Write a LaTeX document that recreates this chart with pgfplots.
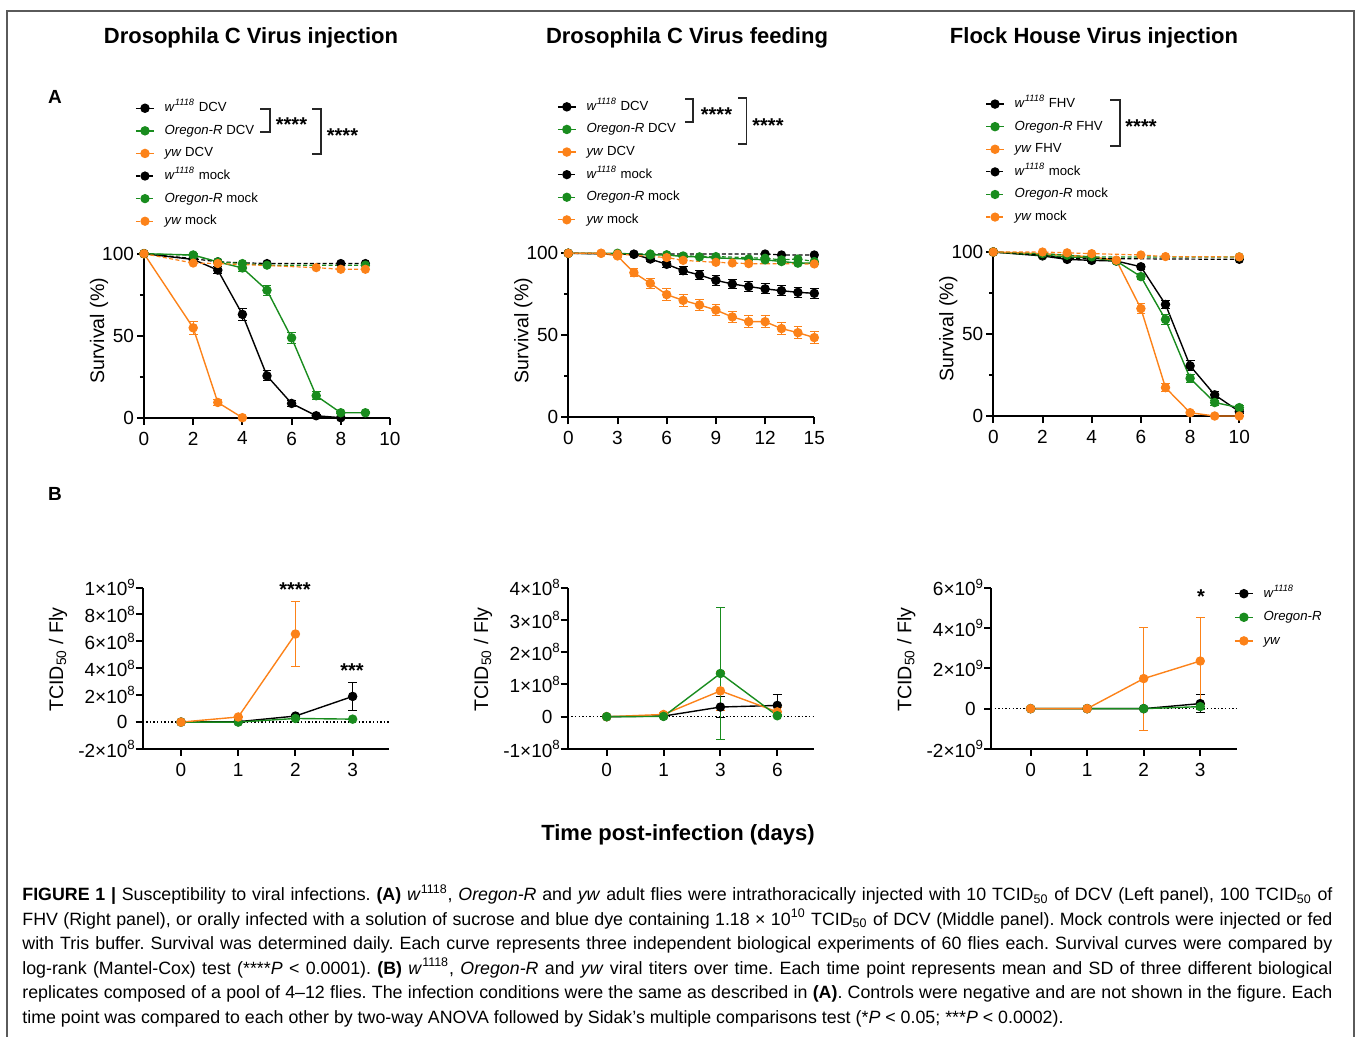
\documentclass[border=0pt]{standalone}
\usepackage{fontspec}
\setmainfont{Liberation Sans}
\usepackage{pgfplots}
\pgfplotsset{compat=1.18}
\definecolor{gpgreen}{RGB}{25,140,30}
\definecolor{gporange}{RGB}{252,130,25}
\definecolor{framegray}{RGB}{90,90,90}
\pgfplotsset{
 gp/.style={scale only axis, clip=false, axis x line*=bottom, axis y line*=left,
   axis line style={line width=1pt,-}, tick style={line width=1pt,black},
   tick align=outside, major tick length=3.5pt, minor tick length=2pt,
   tick label style={font=\fontsize{9.5}{10}\selectfont},
   /pgf/number format/assume math mode=true,
   label style={font=\fontsize{9.8}{11}\selectfont},
   legend cell align=left,
   legend style={draw=none, fill=none, font=\fontsize{6.6}{7}\selectfont, inner sep=0pt, row sep=4.8pt,
     nodes={inner sep=0pt, text height=5pt, text depth=1.5pt}},
   legend image code/.code={\draw[mark repeat=2,mark phase=2] plot coordinates {(0pt,0pt)(4.5pt,0pt)(9pt,0pt)}; \path (14pt,0pt);},
 },
 gpA/.style={gp, ylabel style={at={(axis description cs:-0.183,0.53)},anchor=center},
   yticklabel style={xshift=2pt},
   width=123pt, height=82pt, ymin=0, ymax=100, ytick={0,50,100}, minor ytick={25,75}, ylabel={Survival (\%)}},
 gpB/.style={gp, ylabel style={at={(axis description cs:-0.344,0.555)},anchor=center},
   yticklabel style={xshift=-0.6pt},
   width=123pt, height=80.7pt, xtick={0,1,2,3}, ylabel={TCID\textsubscript{50} / Fly}},
 sl/.style={line width=0.7pt, mark=*, mark size=2pt, mark options={solid},
   error bars/y dir=both, error bars/y explicit,
   error bars/error bar style={line width=0.5pt, solid},
   error bars/error mark options={rotate=90, mark size=2.2pt, line width=0.5pt, solid}},
 ml/.style={line width=0.6pt, dash pattern=on 2pt off 1.2pt, mark=*, mark size=2pt, mark options={solid}},
}
\newcommand\wt{\textit{w}\textsuperscript{\textit{1118}}}
\newcommand\ex[1]{\rlap{\textsuperscript{#1}}}
\newcommand\cfont{\fontsize{8.9}{10}\selectfont\frenchspacing}
\begin{document}
\begin{tikzpicture}
\begin{scope}[x=0.5pt,y=-0.5pt]
\path[use as bounding box] (0,0) rectangle (1357,1037);
\draw[framegray, line width=0.8pt] (7,11) rectangle (1354,1060);
\node[font=\bfseries\fontsize{11}{13}\selectfont] at (251,38) {Drosophila C Virus injection};
\node[font=\bfseries\fontsize{11}{13}\selectfont] at (687,38) {Drosophila C Virus feeding};
\node[font=\bfseries\fontsize{11}{13}\selectfont] at (1094,38) {Flock House Virus injection};
\node[font=\bfseries\fontsize{9.5}{11}\selectfont] at (55,97) {A};
\node[font=\bfseries\fontsize{9.5}{11}\selectfont] at (55,494) {B};
\node[font=\bfseries\fontsize{11}{13}\selectfont] at (678,835) {Time post-infection (days)};
\end{scope}

% ---------- A1 ----------
\begin{axis}[gpA, at={({144*0.5pt},{-417.7*0.5pt})}, anchor=south west,
  xmin=0, xmax=10, xtick={0,2,...,10},
  legend style={at={(axis description cs:-0.037,1.929)}, anchor=north west}]
\addplot[black, sl] coordinates {(0,100)+-(0,0) (2,96.5)+-(0,1.5) (3,90)+-(0,2) (4,63)+-(0,3.5) (5,25.5)+-(0,3) (6,8.7)+-(0,2) (7,1.2)+-(0,0.5) (8,0)+-(0,0)};
\addlegendentry{\wt{} DCV}
\addplot[gpgreen, sl] coordinates {(0,100)+-(0,0) (2,99.2)+-(0,1) (3,95)+-(0,1) (4,91.3)+-(0,2) (5,77.7)+-(0,3) (6,48.7)+-(0,3.5) (7,13.4)+-(0,2.5) (8,3)+-(0,0.5) (9,3)+-(0,0.5)};
\addlegendentry{\textit{Oregon-R} DCV}
\addplot[gporange, sl] coordinates {(0,100)+-(0,0) (2,54.8)+-(0,4) (3,9.3)+-(0,2) (4,0)+-(0,0)};
\addlegendentry{\textit{yw} DCV}
\addplot[black, ml] coordinates {(0,100) (2,97) (3,95) (5,94) (8,94) (9,94)};
\addlegendentry{\wt{} mock}
\addplot[gpgreen, ml] coordinates {(0,100) (2,99) (3,95) (4,94) (5,93) (9,93)};
\addlegendentry{\textit{Oregon-R} mock}
\addplot[gporange, ml] coordinates {(0,100) (2,94.3) (3,94) (7,91.5) (8,90.5) (9,90.5)};
\addlegendentry{\textit{yw} mock}
\end{axis}

% ---------- A2 ----------
\begin{axis}[gpA, at={({568.3*0.5pt},{-417.3*0.5pt})}, anchor=south west,
  xmin=0, xmax=15, xtick={0,3,...,15},
  legend style={at={(axis description cs:-0.047,1.935)}, anchor=north west}]
\addplot[black, sl] coordinates {(0,100)+-(0,0) (4,99.4)+-(0,0.5) (5,96.5)+-(0,1.5) (6,93.3)+-(0,2) (7,89.4)+-(0,2.5) (8,86.8)+-(0,2.5) (9,83.5)+-(0,3) (10,81.3)+-(0,3) (11,79.7)+-(0,3) (12,78.3)+-(0,3) (13,77.2)+-(0,3) (14,76.2)+-(0,3) (15,75.6)+-(0,3)};
\addlegendentry{\wt{} DCV}
\addplot[gpgreen, sl] coordinates {(0,100)+-(0,0) (3,100)+-(0,0) (5,99)+-(0,0.5) (6,99)+-(0,0.5) (7,98)+-(0,0.5) (8,97.8)+-(0,0.5) (9,97.2)+-(0,0.5) (11,96.5)+-(0,0.5) (12,96)+-(0,0.5) (13,95)+-(0,1) (14,94)+-(0,1) (15,94)+-(0,1)};
\addlegendentry{\textit{Oregon-R} DCV}
\addplot[gporange, sl] coordinates {(0,100)+-(0,0) (2,100)+-(0,0) (3,98.4)+-(0,1) (4,88.2)+-(0,2.5) (5,81.7)+-(0,3) (6,74.8)+-(0,3.5) (7,71.3)+-(0,3.5) (8,68.5)+-(0,3.5) (9,65.4)+-(0,3.5) (10,61.2)+-(0,3.5) (11,58.3)+-(0,3.5) (12,58.3)+-(0,3.5) (13,54.1)+-(0,3.5) (14,51.6)+-(0,3.5) (15,48.6)+-(0,3.5)};
\addlegendentry{\textit{yw} DCV}
\addplot[black, ml] coordinates {(0,100) (4,99.5) (12,99.6) (13,99) (15,99)};
\addlegendentry{\wt{} mock}
\addplot[gpgreen, ml] coordinates {(0,100) (5,99.6) (6,99) (7,98.4) (9,98) (12,97) (13,96) (14,96.5) (15,95)};
\addlegendentry{\textit{Oregon-R} mock}
\addplot[gporange, ml] coordinates {(0,100) (2,100) (3,99.5) (6,97.4) (7,95.7) (9,94.5) (10,94.1) (11,93.7) (15,93.5)};
\addlegendentry{\textit{yw} mock}
\end{axis}

% ---------- A3 ----------
\begin{axis}[gpA, at={({993.3*0.5pt},{-416*0.5pt})}, anchor=south west,
  xmin=0, xmax=10, xtick={0,2,...,10},
  legend style={at={(axis description cs:-0.034,1.944)}, anchor=north west}]
\addplot[black, sl] coordinates {(0,100)+-(0,0) (2,97.6)+-(0,0.5) (3,95.5)+-(0,0.5) (4,94.9)+-(0,0.5) (5,94.5)+-(0,0.5) (6,91)+-(0,1.5) (7,68)+-(0,2.5) (8,30.6)+-(0,3) (9,12.9)+-(0,2) (10,2.7)+-(0,1)};
\addlegendentry{\wt{} FHV}
\addplot[gpgreen, sl] coordinates {(0,100)+-(0,0) (2,98)+-(0,0.5) (3,97)+-(0,0.5) (4,96.5)+-(0,0.5) (5,94.5)+-(0,0.5) (6,85)+-(0,2) (7,58.8)+-(0,3) (8,23)+-(0,2.5) (9,8.2)+-(0,1.5) (10,5.1)+-(0,1)};
\addlegendentry{\textit{Oregon-R} FHV}
\addplot[gporange, sl] coordinates {(0,100)+-(0,0) (2,99)+-(0,0.5) (3,98)+-(0,0.5) (4,97)+-(0,0.5) (5,95)+-(0,0.5) (6,65.5)+-(0,3) (7,17.3)+-(0,2.5) (8,2)+-(0,0.5) (9,0)+-(0,0) (10,0)+-(0,0)};
\addlegendentry{\textit{yw} FHV}
\addplot[black, ml] coordinates {(0,100) (2,98) (3,96) (4,96) (10,95.5)};
\addlegendentry{\wt{} mock}
\addplot[gpgreen, ml] coordinates {(0,100) (2,99) (3,98) (4,97) (10,97)};
\addlegendentry{\textit{Oregon-R} mock}
\addplot[gporange, ml] coordinates {(0,100) (2,100) (3,99.5) (4,99) (6,98.2) (7,97.2) (10,97)};
\addlegendentry{\textit{yw} mock}
\end{axis}

% ---------- B1 ----------
\begin{axis}[gpB, at={({142.7*0.5pt},{-749*0.5pt})}, anchor=south west,
  xmin=-0.67, xmax=3.63, ymin=-2, ymax=10, ytick={-2,0,2,4,6,8,10},
  yticklabels={-2×10\ex{8},0,2×10\ex{8},4×10\ex{8},6×10\ex{8},8×10\ex{8},1×10\ex{9}}]
\draw[black, line width=0.6pt, dash pattern=on 0.7pt off 1.1pt] (axis cs:-0.67,0) -- (axis cs:3.63,0);
\addplot[black, sl] coordinates {(0,0)+-(0,0) (1,0.03)+-(0,0) (2,0.45)+-(0,0.12) (3,1.91)+-(0,1.05)};
\addplot[gpgreen, sl] coordinates {(0,0)+-(0,0) (1,0)+-(0,0) (2,0.27)+-(0,0.05) (3,0.22)+-(0,0.03)};
\addplot[gporange, sl] coordinates {(0,0)+-(0,0) (1,0.38)+-(0,0.05) (2,6.55)+-(0,2.45)};
\end{axis}

% ---------- B2 ----------
\begin{axis}[gpB, at={({567.7*0.5pt},{-749*0.5pt})}, anchor=south west,
  xmin=-0.685, xmax=3.64, ymin=-1, ymax=4, ytick={-1,0,1,2,3,4}, xticklabels={0,1,3,6},
  yticklabels={-1×10\ex{8},0,1×10\ex{8},2×10\ex{8},3×10\ex{8},4×10\ex{8}}]
\draw[black, line width=0.6pt, dash pattern=on 0.7pt off 1.1pt] (axis cs:-0.685,0) -- (axis cs:3.64,0);
\addplot[black, sl] coordinates {(0,0)+-(0,0) (1,0.02)+-(0,0) (2,0.3)+-(0,0.32) (3,0.35)+-(0,0.33)};
\addplot[gporange, sl] coordinates {(0,0)+-(0,0) (1,0.07)+-(0,0.07) (2,0.8)+-(0,0.6) (3,0.15)+-(0,0.15)};
\addplot[gpgreen, sl] coordinates {(0,0)+-(0,0) (1,0.01)+-(0,0) (2,1.34)+-(0,2.05) (3,0.03)+-(0,0.03)};
\end{axis}

% ---------- B3 ----------
\begin{axis}[gpB, at={({991*0.5pt},{-749*0.5pt})}, anchor=south west,
  xmin=-0.70, xmax=3.65, ymin=-2, ymax=6, ytick={-2,0,2,4,6},
  yticklabels={-2×10\ex{9},0,2×10\ex{9},4×10\ex{9},6×10\ex{9}},
  legend style={at={(axis description cs:0.987,1.005)}, anchor=north west, row sep=5.3pt}]
\draw[black, line width=0.6pt, dash pattern=on 0.7pt off 1.1pt] (axis cs:-0.70,0) -- (axis cs:3.65,0);
\addplot[black, sl] coordinates {(0,0)+-(0,0) (1,0)+-(0,0) (2,0)+-(0,0) (3,0.25)+-(0,0.46)};
\addlegendentry{\wt}
\addplot[gpgreen, sl] coordinates {(0,0)+-(0,0) (1,0)+-(0,0) (2,0)+-(0,0) (3,0.1)+-(0,0.15)};
\addlegendentry{\textit{Oregon-R}}
\addplot[gporange, sl] coordinates {(0,0)+-(0,0) (1,0)+-(0,0) (2,1.49)+-(0,2.55) (3,2.36)+-(0,2.17)};
\addlegendentry{\textit{yw}}
\end{axis}

\begin{scope}[x=0.5pt,y=-0.5pt]
\tikzset{br/.style={line width=0.7pt, black!85}, st/.style={font=\bfseries\fontsize{10}{11}\selectfont, inner sep=0pt}}
% A1 brackets
\draw[br] (260,109) -- (270,109) -- (270,132) -- (260,132);
\node[st] at (291.5,125) {****};
\draw[br] (312,109) -- (321,109) -- (321,154) -- (312,154);
\node[st] at (342.5,136) {****};
% A2 brackets
\draw[br] (685,99) -- (693,99) -- (693,122) -- (685,122);
\node[st] at (716.5,115) {****};
\draw[br] (738,98) -- (746.7,98) -- (746.7,144) -- (738,144);
\node[st] at (768,126) {****};
% A3 bracket
\draw[br] (1110,100) -- (1120,100) -- (1120,146) -- (1110,146);
\node[st] at (1141,127) {****};
% B asterisks
\node[st] at (295,590) {****};
\node[st] at (352,671) {***};
\node[st] at (1201,597) {*};
% caption
\tikzset{capline/.style={anchor=base west, inner sep=0pt, font=\cfont}}
\node[capline] at (22,901) {\makebox[655pt][s]{\textbf{FIGURE 1 |} Susceptibility to viral infections. \textbf{(A)} \textit{w}\textsuperscript{1118}, \textit{Oregon-R} and \textit{yw} adult flies were intrathoracically injected with 10 TCID\textsubscript{50} of DCV (Left panel), 100 TCID\textsubscript{50} of}};
\node[capline] at (22,925.5) {\makebox[655pt][s]{FHV (Right panel), or orally infected with a solution of sucrose and blue dye containing 1.18 × 10\textsuperscript{10} TCID\textsubscript{50} of DCV (Middle panel). Mock controls were injected or fed}};
\node[capline] at (22,950) {\makebox[655pt][s]{with Tris buffer. Survival was determined daily. Each curve represents three independent biological experiments of 60 flies each. Survival curves were compared by}};
\node[capline] at (22,974.5) {\makebox[655pt][s]{log-rank (Mantel-Cox) test (****\textit{P} < 0.0001). \textbf{(B)} \textit{w}\textsuperscript{1118}, \textit{Oregon-R} and \textit{yw} viral titers over time. Each time point represents mean and SD of three different biological}};
\node[capline] at (22,999) {\makebox[655pt][s]{replicates composed of a pool of 4--12 flies. The infection conditions were the same as described in \textbf{(A)}. Controls were negative and are not shown in the figure. Each}};
\node[capline] at (22,1023.5) {time point was compared to each other by two-way ANOVA followed by Sidak's multiple comparisons test (*\textit{P} < 0.05; ***\textit{P} < 0.0002).};
\end{scope}
\end{tikzpicture}
\end{document}
